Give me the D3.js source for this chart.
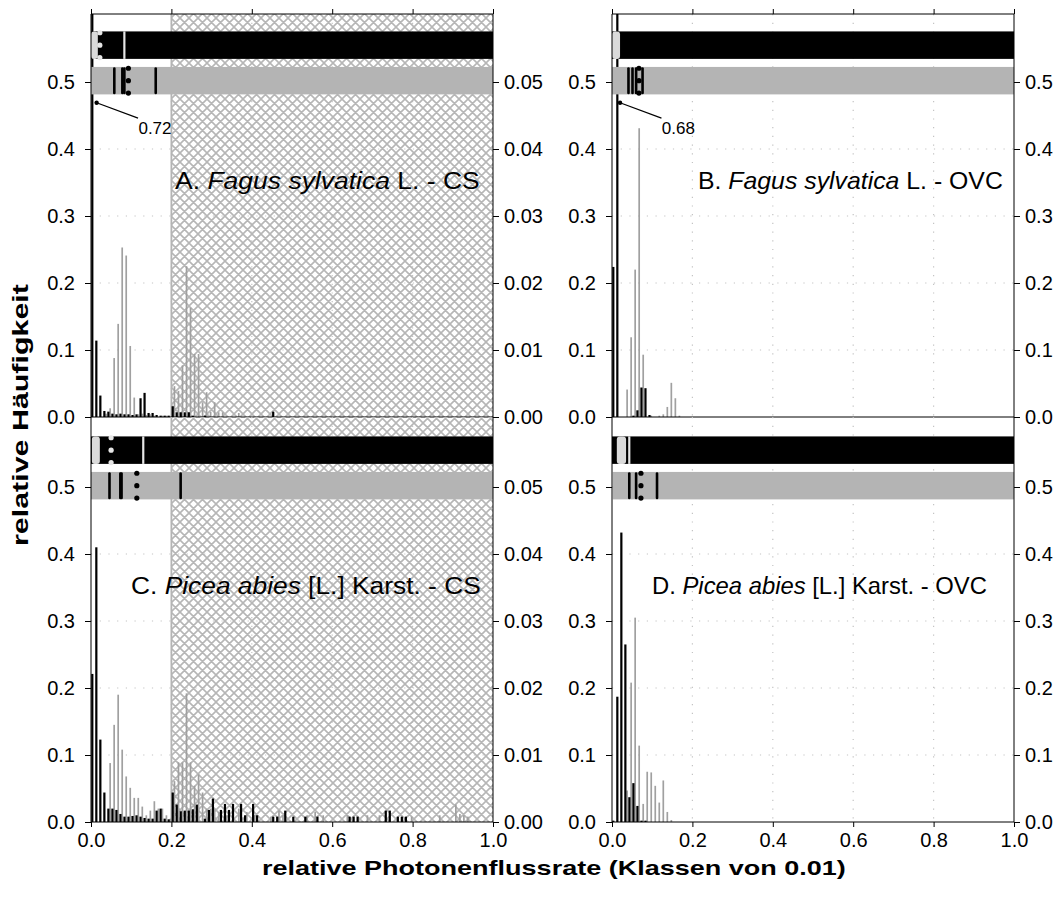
<!DOCTYPE html>
<html><head><meta charset="utf-8">
<script src="https://cdn.jsdelivr.net/npm/d3@7"></script>
<style>
body{margin:0;background:#fff}
text{font-family:Arial,"Liberation Sans",sans-serif;fill:#000}
</style>
</head><body>
<svg id="chart" width="1064" height="897"></svg>
<script>
// ---------------- data ----------------
const xTicks = [0.0, 0.2, 0.4, 0.6, 0.8, 1.0];
const yTicks = [0.0, 0.1, 0.2, 0.3, 0.4, 0.5];
const yTicksSecondary = [0.00, 0.01, 0.02, 0.03, 0.04, 0.05];
const classWidth = 0.01;

// [class index (0.01 steps), relative frequency]
const aBlack = [[0,0.72],[1,0.114],[2,0.032],[3,0.009],[4,0.008],[5,0.005],[6,0.004],[7,0.005],[8,0.004],[9,0.004],[10,0.003],[11,0.004],[12,0.028],[13,0.036],[14,0.006],[15,0.006],[16,0.003],[17,0.002],[18,0.002],[19,0.002],[20,0.016],[21,0.007],[22,0.007],[23,0.007],[24,0.007],[25,0.002],[28,0.002],[45,0.008]];
const aGrey  = [[3,0.005],[4,0.013],[5,0.088],[6,0.139],[7,0.253],[8,0.241],[9,0.106],[10,0.029],[11,0.004],[12,0.005],[13,0.003],[14,0.004],[15,0.002],[17,0.002],[18,0.002],[20,0.046],[21,0.039],[22,0.077],[23,0.225],[24,0.163],[25,0.094],[26,0.094],[27,0.022],[28,0.037],[29,0.008],[30,0.022],[31,0.007],[32,0.007],[36,0.006]];

const bBlack = [[0,0.224],[1,0.68],[5,0.002],[6,0.01],[7,0.044],[8,0.043],[9,0.003]];
const bGrey  = [[3,0.041],[4,0.119],[5,0.22],[6,0.431],[7,0.093],[9,0.002],[11,0.002],[12,0.004],[13,0.015],[14,0.051],[15,0.028],[16,0.002]];

const cBlack = [[0,0.221],[1,0.41],[2,0.123],[3,0.044],[4,0.02],[5,0.02],[6,0.018],[7,0.012],[8,0.008],[9,0.008],[10,0.009],[11,0.01],[12,0.008],[13,0.006],[14,0.005],[15,0.005],[16,0.017],[17,0.02],[18,0.005],[19,0.004],[20,0.044],[21,0.026],[22,0.016],[23,0.017],[24,0.017],[25,0.019],[26,0.026],[28,0.005],[29,0.018],[30,0.035],[32,0.018],[33,0.027],[34,0.018],[35,0.027],[37,0.027],[38,0.01],[40,0.027],[41,0.01],[45,0.008],[46,0.008],[48,0.017],[50,0.008],[53,0.008],[56,0.008],[64,0.008],[65,0.008],[66,0.008],[73,0.017],[74,0.017],[76,0.008],[77,0.008],[78,0.008]];
const cGrey  = [[4,0.088],[5,0.145],[6,0.19],[7,0.108],[8,0.068],[9,0.051],[10,0.036],[11,0.036],[12,0.023],[13,0.01],[14,0.017],[15,0.031],[16,0.02],[17,0.02],[18,0.01],[19,0.005],[20,0.061],[21,0.089],[22,0.089],[23,0.192],[24,0.089],[25,0.054],[26,0.071],[27,0.044],[28,0.02],[29,0.02],[30,0.02],[31,0.015],[33,0.01],[36,0.02],[38,0.015],[40,0.01],[44,0.008],[46,0.017],[47,0.01],[53,0.01],[55,0.015],[57,0.01],[63,0.01],[68,0.01],[71,0.01],[79,0.008],[86,0.01],[90,0.026],[91,0.012],[92,0.01],[93,0.008]];

const dBlack = [[0,0.002],[1,0.187],[2,0.432],[3,0.265],[4,0.037],[5,0.058],[6,0.024],[7,0.002],[8,0.002]];
const dGrey  = [[3,0.047],[4,0.208],[5,0.305],[6,0.114],[7,0.027],[8,0.075],[9,0.074],[10,0.054],[11,0.029],[12,0.062],[13,0.015],[14,0.003]];

// box-plot style summary rows (relative photon flux rate)
const aBoxBlack = {light:[0.0,0.017], dots:[0.022], lines:[0.083]};
const aBoxGrey  = {start:0.0, lines:[0.058,0.078,0.083,0.161], dots:[0.093]};
const bBoxBlack = {light:[0.0,0.02], dots:[], lines:[]};
const bBoxGrey  = {start:0.0, lines:[0.041,0.051,0.06,0.076], dots:[0.067]};
const cBoxBlack = {light:[0.002,0.022], dots:[0.05], lines:[0.13]};
const cBoxGrey  = {start:0.0, lines:[0.046,0.073,0.076,0.223], dots:[0.114]};
const dBoxBlack = {light:[0.012,0.035], dots:[], lines:[0.043]};
const dBoxGrey  = {start:0.002, lines:[0.043,0.06,0.112], dots:[0.072]};

const panelTitles = [
  ["A. ", "Fagus sylvatica", " L. - CS"],
  ["B. ", "Fagus sylvatica", " L. - OVC"],
  ["C. ", "Picea abies", " [L.] Karst. - CS"],
  ["D. ", "Picea abies", " [L.] Karst. - OVC"]
];
const offChartLabels = ["0.72", "0.68"];
const yTitle = "relative Häufigkeit";
const xTitle = "relative Photonenflussrate (Klassen von 0.01)";

// ---------------- layout ----------------
const svg = d3.select("#chart");
const defs = svg.append("defs");
const P = 9;
const pat = defs.append("pattern").attr("id","hatch").attr("patternUnits","userSpaceOnUse")
  .attr("width",P).attr("height",P);
pat.append("path").attr("d",`M0,0 L${P},${P} M${P},0 L0,${P} M-2,${P-2} L2,${P+2} M${P-2},-2 L${P+2},2 M-2,2 L2,-2 M${P-2},${P+2} L${P+2},${P-2}`)
  .attr("stroke","#b6b6b6").attr("stroke-width",1.6).attr("fill","none");

const colX = [{l:91, r:493}, {l:612, r:1014}];
const rowY = [{t:15, b:417}, {t:420, b:822}];

// stretch text horizontally to its reference width
function fitWidth(sel, x0, y0, w, rotate) {
  const n = sel.node().getComputedTextLength();
  const s = w / n;
  sel.attr("transform", `translate(${x0},${y0})${rotate ? " rotate(-90)" : ""} scale(${s},1)`);
}

const panels = [
  {col:0,row:0, black:aBlack, grey:aGrey, boxB:aBoxBlack, boxG:aBoxGrey, title:panelTitles[0], tx:175, tw:305, hatch:true, sec:true, top:true, bottom:false, note:offChartLabels[0]},
  {col:1,row:0, black:bBlack, grey:bGrey, boxB:bBoxBlack, boxG:bBoxGrey, title:panelTitles[1], tx:698, tw:305, hatch:false, sec:false, top:true, bottom:false, note:offChartLabels[1]},
  {col:0,row:1, black:cBlack, grey:cGrey, boxB:cBoxBlack, boxG:cBoxGrey, title:panelTitles[2], tx:131, tw:350, hatch:true, sec:true, top:false, bottom:true, note:null},
  {col:1,row:1, black:dBlack, grey:dGrey, boxB:dBoxBlack, boxG:dBoxGrey, title:panelTitles[3], tx:652, tw:335, hatch:false, sec:false, top:false, bottom:true, note:null}
];

const fmt1 = d3.format(".1f"), fmt2 = d3.format(".2f");
const tickFont = 20;

panels.forEach((p,i) => {
  const cx = colX[p.col], ry = rowY[p.row];
  const topEdge = p.row===0 ? 14 : 417;
  const x = d3.scaleLinear().domain([0,1]).range([cx.l, cx.r]);
  const y = d3.scaleLinear().domain([0,0.6]).range([ry.b, ry.t]);
  const g = svg.append("g");
  const clipId = "clip"+i;
  defs.append("clipPath").attr("id",clipId).append("rect")
    .attr("x",cx.l).attr("y",topEdge).attr("width",cx.r-cx.l).attr("height",ry.b-topEdge);

  // gridlines
  const grid = g.append("g").attr("stroke","#c4c4c4").attr("stroke-width",1.2).attr("stroke-dasharray","1.2,7.5");
  yTicks.slice(1).forEach(v => grid.append("line").attr("x1",cx.l).attr("x2",cx.r).attr("y1",y(v)).attr("y2",y(v)));
  xTicks.slice(1,-1).forEach(v => grid.append("line").attr("x1",x(v)).attr("x2",x(v)).attr("y1",topEdge).attr("y2",y(0)));

  // hatched region
  if (p.hatch) {
    g.append("rect").attr("x",x(0.2)).attr("y",topEdge).attr("width",x(1)-x(0.2)).attr("height",ry.b-topEdge)
      .attr("fill","url(#hatch)");
    g.append("line").attr("x1",x(0.2)).attr("x2",x(0.2)).attr("y1",topEdge).attr("y2",ry.b)
      .attr("stroke","#b4b4b4").attr("stroke-width",1.8);
  }

  // bars
  const bw = x(classWidth) - x(0);
  const bars = g.append("g").attr("clip-path",`url(#${clipId})`);
  bars.selectAll("rect.grey").data(p.grey).join("rect").attr("class","grey")
    .attr("x", d => x(d[0]*classWidth) + 0.55*bw).attr("width", 0.42*bw)
    .attr("y", d => y(d[1])).attr("height", d => y(0)-y(d[1])).attr("fill","#a0a0a0");
  bars.selectAll("rect.black").data(p.black).join("rect").attr("class","black")
    .attr("x", d => x(d[0]*classWidth) + 0.05*bw).attr("width", 0.55*bw)
    .attr("y", d => y(d[1])).attr("height", d => y(0)-y(d[1])).attr("fill","#000");

  // summary rows
  const half = 0.0205;
  const bc = 0.555, gc = 0.502;
  const rb = g.append("g");
  rb.append("rect").attr("x",x(0)).attr("width",x(1)-x(0)).attr("y",y(bc+half)).attr("height",y(bc-half)-y(bc+half)).attr("fill","#000");
  rb.append("rect").attr("x",x(p.boxB.light[0])).attr("width",x(p.boxB.light[1])-x(p.boxB.light[0]))
    .attr("y",y(bc+half)).attr("height",y(bc-half)-y(bc+half)).attr("rx",3).attr("fill","#dadada");
  p.boxB.lines.forEach(v => rb.append("line").attr("x1",x(v)).attr("x2",x(v)).attr("y1",y(bc+half)).attr("y2",y(bc-half))
    .attr("stroke","#e6e6e6").attr("stroke-width",2.2));
  p.boxB.dots.forEach(v => [bc+half-0.002, bc, bc-half+0.002].forEach(yy =>
    rb.append("circle").attr("cx",x(v)).attr("cy",y(yy)).attr("r",2.6).attr("fill","#e6e6e6")));

  const rg = g.append("g");
  rg.append("rect").attr("x",x(p.boxG.start)).attr("width",x(1)-x(p.boxG.start)).attr("y",y(gc+half)).attr("height",y(gc-half)-y(gc+half)).attr("fill","#b4b4b4");
  p.boxG.lines.forEach(v => rg.append("line").attr("x1",x(v)).attr("x2",x(v)).attr("y1",y(gc+half)+1.5).attr("y2",y(gc-half)-1.5)
    .attr("stroke","#000").attr("stroke-width",2.6).attr("stroke-linecap","round"));
  p.boxG.dots.forEach(v => [gc+half-0.002, gc, gc-half+0.002].forEach(yy =>
    rg.append("circle").attr("cx",x(v)).attr("cy",y(yy)).attr("r",2.6).attr("fill","#000")));

  // axes
  const ax = g.append("g");
  const left = ax.append("g").attr("transform",`translate(${cx.l},0)`)
    .call(d3.axisLeft(y).tickValues(yTicks).tickFormat(fmt1).tickSize(6).tickPadding(10));
  const yS = d3.scaleLinear().domain([0,0.06]).range([ry.b, ry.t]);
  const right = ax.append("g").attr("transform",`translate(${cx.r},0)`)
    .call(p.sec ? d3.axisRight(yS).tickValues(yTicksSecondary).tickFormat(fmt2).tickSize(6).tickPadding(5)
                : d3.axisRight(y).tickValues(yTicks).tickFormat(fmt1).tickSize(6).tickPadding(5));
  [left,right].forEach(a => { a.select(".domain").remove(); a.selectAll("text").attr("font-size",tickFont).attr("font-family","Arial, Liberation Sans, sans-serif"); });
  ax.append("line").attr("x1",cx.l).attr("x2",cx.l).attr("y1",topEdge).attr("y2",ry.b).attr("stroke","#000");
  ax.append("line").attr("x1",cx.r).attr("x2",cx.r).attr("y1",topEdge).attr("y2",ry.b).attr("stroke","#000");
  if (p.top) {
    const t = ax.append("g").attr("transform","translate(0,14)").call(d3.axisTop(x).tickValues(xTicks).tickFormat("").tickSize(5));
    t.select(".domain").remove();
    ax.append("line").attr("x1",cx.l).attr("x2",cx.r).attr("y1",14).attr("y2",14).attr("stroke","#000");
    ax.append("line").attr("x1",cx.l).attr("x2",cx.r).attr("y1",417).attr("y2",417).attr("stroke","#000");
  }
  if (p.bottom) {
    const b = ax.append("g").attr("transform",`translate(0,${ry.b})`).call(d3.axisBottom(x).tickValues(xTicks).tickFormat(fmt1).tickSize(5).tickPadding(6));
    b.select(".domain").remove();
    b.selectAll("text").attr("font-size",tickFont).attr("font-family","Arial, Liberation Sans, sans-serif");
    ax.append("line").attr("x1",cx.l).attr("x2",cx.r).attr("y1",ry.b).attr("y2",ry.b).attr("stroke","#000");
  }

  // annotation for off-chart bar
  if (p.note) {
    const ptX = p.col===0 ? 0.014 : 0.02;
    ax.append("circle").attr("cx",x(ptX)).attr("cy",y(0.469)).attr("r",2.2).attr("fill","#000");
    ax.append("line").attr("x1",x(ptX)).attr("y1",y(0.469)).attr("x2",x(ptX+0.103)).attr("y2",y(0.446)).attr("stroke","#000").attr("stroke-width",1.2);
    ax.append("text").attr("x",x(ptX+0.104)).attr("y",y(0.423)).attr("font-size",17).text(p.note);
  }

  // panel title
  const t = g.append("text").attr("font-size",24);
  t.append("tspan").text(p.title[0]);
  t.append("tspan").attr("font-style","italic").text(p.title[1]);
  t.append("tspan").text(p.title[2]);
  fitWidth(t, p.tx, y(0.34), p.tw, false);
});

const yt = svg.append("text").attr("font-size",22).attr("font-weight","bold").text(yTitle);
fitWidth(yt, 28, 546, 262, true);
const xt = svg.append("text").attr("font-size",21).attr("font-weight","bold").text(xTitle);
fitWidth(xt, 262, 875, 584, false);
</script>
</body></html>
